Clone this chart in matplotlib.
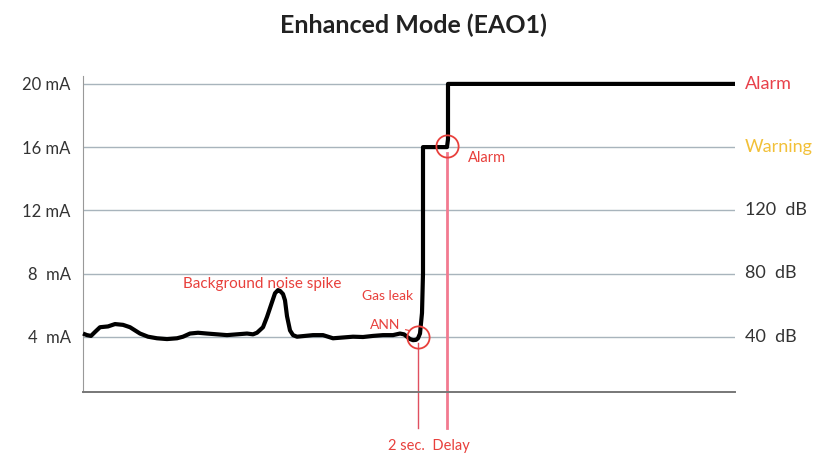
import numpy as np
import matplotlib.pyplot as plt

# sensor output trace (time in arbitrary units, current in mA)
time = [0, 4, 8, 12, 17, 25, 32, 40, 47, 52, 57, 65, 74, 84, 94, 100, 107,
        115, 124, 134, 144, 154, 164, 170, 174, 180, 184, 188, 192, 195,
        197, 200, 202, 204, 207, 210, 214, 222, 230, 240, 250, 260, 270,
        280, 290, 300, 310, 317, 321, 324, 327, 330, 333, 335, 337, 339,
        340, 340, 364, 365, 365, 652]
current = [4.2, 4.1, 4.05, 4.3, 4.6, 4.65, 4.8, 4.75, 4.6, 4.4, 4.2, 4.0,
           3.9, 3.85, 3.9, 4.0, 4.2, 4.25, 4.2, 4.15, 4.1, 4.15, 4.2, 4.15,
           4.25, 4.6, 5.25, 6.0, 6.75, 6.95, 6.9, 6.7, 6.3, 5.3, 4.4, 4.1,
           4.0, 4.05, 4.1, 4.1, 3.9, 3.95, 4.0, 3.98, 4.05, 4.1, 4.1, 4.2,
           4.15, 4.0, 3.85, 3.78, 3.8, 3.9, 4.2, 5.5, 8.0, 16.0, 16.0, 16.5,
           20.0, 20.0]

ma_levels = [4, 8, 12, 16, 20]
ma_labels = ["4  mA", "8  mA", "12 mA", "16 mA", "20 mA"]
right_labels = ["40  dB", "80  dB", "120  dB", "Warning", "Alarm"]
right_colors = ["#333333", "#333333", "#333333", "#f2c038", "#e8404a"]

ann_t, ann_ma = 335, 4.0      # ANN detection point
alarm_t, alarm_ma = 364, 16.1  # alarm point after delay

red = "#e8403c"

fig = plt.figure(figsize=(8.26, 4.59), dpi=100)
ax = fig.add_axes([83 / 826, 1 - 392 / 459, (735 - 83) / 826, 316 / 459])
ax.set_xlim(0, 652)
ax.set_ylim(0.5, 20.5)

for lv in ma_levels:
    ax.axhline(lv, color="#a8b4bc", lw=1.0, zorder=1)

ax.spines["top"].set_visible(False)
ax.spines["right"].set_visible(False)
ax.spines["left"].set_color("#999999")
ax.spines["bottom"].set_color("#777777")
ax.spines["bottom"].set_linewidth(1.4)
ax.set_xticks([])
ax.set_yticks(ma_levels)
ax.set_yticklabels(ma_labels, fontsize=12, color="#333333", family="Lato")
ax.tick_params(axis="y", length=0, pad=9)

# delay markers
ax.plot([ann_t, ann_t], [ann_ma - 0.4, -1.8], color="#e05060", lw=1.0,
        clip_on=False, zorder=2)
ax.plot([alarm_t, alarm_t], [alarm_ma - 0.5, -1.8], color="#f27a90", lw=2.0,
        clip_on=False, zorder=2)

ax.plot(time, current, color="black", lw=3.0, solid_joinstyle="round",
        solid_capstyle="butt", clip_on=False, zorder=3)

ax.plot([ann_t], [ann_ma], marker="o", ms=16, mfc="none", mec=red, mew=1.3,
        zorder=4)
ax.plot([alarm_t], [alarm_ma], marker="o", ms=16, mfc="none", mec=red,
        mew=1.3, zorder=4)

# right side labels
for lv, lab, col in zip(ma_levels, right_labels, right_colors):
    ax.text(1.015, lv, lab, transform=ax.get_yaxis_transform(), va="center",
            ha="left", fontsize=13, color=col, family="Lato")

ax.text(179, 6.9, "Background noise spike", color=red, fontsize=11,
        ha="center", va="bottom", family="Lato")
ax.text(330, 6.55, "Gas leak", color=red, fontsize=10, ha="right",
        va="center", family="Lato")
ax.annotate("ANN", xy=(ann_t - 6, ann_ma + 0.35), xytext=(317, 4.75),
            color=red, fontsize=10, ha="right", va="center", family="Lato",
            arrowprops=dict(arrowstyle="-", color=red, lw=0.8))
ax.text(alarm_t + 21, alarm_ma - 0.8, "Alarm", color=red, fontsize=10.5,
        ha="left", va="center", family="Lato")
ax.text((ann_t + alarm_t) / 2 - 4, -2.9, "2 sec.  Delay", color=red,
        fontsize=10.5, ha="center", va="center", family="Lato")

fig.text(0.5, 1 - 25 / 459, "Enhanced Mode (EAO1)", ha="center",
         va="center", fontsize=18, fontweight="bold", family="Lato",
         color="#222222")

fig.savefig("out.png", dpi=100)
